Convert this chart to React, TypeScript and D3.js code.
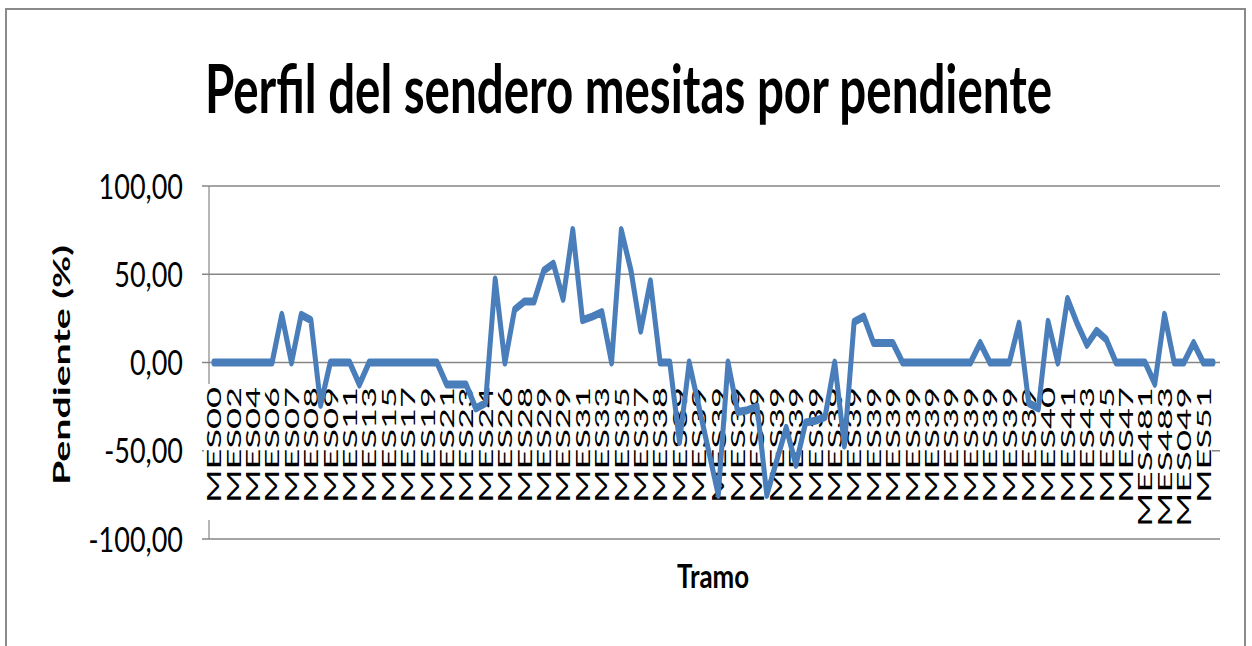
import React from "react";
import * as d3 from "d3";

const values: number[] = [
  0, 0, 0, 0, 0, 0, 0, 27, 0, 27, 24, -24, 0, 0, 0, -12.5, 0, 0, 0, 0,
  0, 0, 0, 0, -12.5, -12.5, -12.5, -26, -23, 47, 0, 30, 34.5, 34.5, 52, 56, 36, 75, 24, 26,
  28.5, 0, 75, 52, 18, 46, 0, 0, -45, 0, -25, -50, -75, 0, -28, -27, -25, -75, -56, -37,
  -58, -34, -33, -31, 0, -47, 23, 26, 11, 11, 11, 0, 0, 0, 0, 0, 0, 0, 0, 11,
  0, 0, 0, 22, -23, -26, 23, 0, 36, 22, 10, 18, 13, 0, 0, 0, 0, -12, 27, 0,
  0, 11, 0, 0,
];

const tickLabels: string[] = [
  "MES00", "MES02", "MES04", "MES06", "MES07", "MES08", "MES09", "MES11", "MES13", "MES15",
  "MES17", "MES19", "MES21", "MES23", "MES24", "MES26", "MES28", "MES29", "MES29", "MES31",
  "MES33", "MES35", "MES37", "MES38",
  "MES39", "MES39", "MES39", "MES39", "MES39", "MES39", "MES39", "MES39", "MES39", "MES39",
  "MES39", "MES39", "MES39", "MES39", "MES39", "MES39", "MES39", "MES39", "MES39",
  "MES40", "MES41", "MES43", "MES45", "MES47", "MES481", "MES483", "MES049", "MES51",
];

const yTicks: number[] = [-100, -50, 0, 50, 100];

const title = "Perfil del sendero mesitas por pendiente";
const yTitle = "Pendiente (%)";
const xTitle = "Tramo";

const W = 1252;
const H = 646;
const S = 1.6; // vertical stretch of the line stroke

const locale = d3.formatLocale({ decimal: ",", thousands: ".", grouping: [3], currency: ["", ""], minus: "-" });
const fmt = locale.format(".2f");

export default function App() {
  const idx = values.map((_, i) => i);
  const x = d3.scalePoint<number>().domain(idx).range([213.9, 1213]);
  const y = d3.scaleLinear().domain([-100, 100]).range([539, 186]);
  const yU = d3.scaleLinear().domain([-100, 100]).range([539 / S, 186 / S]);
  const line = d3
    .line<number>()
    .x((_, i) => x(i) as number)
    .y((d) => yU(d));

  const font = "Lato, 'Liberation Sans', Arial, sans-serif";
  const axisLeft = 209;
  const plotRight = 1220;

  return (
    <svg width={W} height={H} style={{ position: "absolute", left: 0, top: 0, background: "#fff" }}>
      <rect x={0} y={0} width={W} height={H} fill="#fff" />
      <rect x={6} y={9} width={1239} height={700} fill="#fff" stroke="#8a8a8a" strokeWidth={2} />

      {/* title */}
      <text
        transform={`translate(628.5,113) scale(1,1.65)`}
        textAnchor="middle"
        fontFamily={font}
        fontWeight="bold"
        fontSize={40}
        textLength={847}
        lengthAdjust="spacingAndGlyphs"
        fill="#000"
      >
        {title}
      </text>

      {/* gridlines + ticks */}
      {yTicks.map((t) => (
        <line key={t} x1={202} x2={plotRight} y1={y(t)} y2={y(t)} stroke="#868686" strokeWidth={1.6} />
      ))}
      <line x1={axisLeft} x2={axisLeft} y1={y(100)} y2={y(-100)} stroke="#868686" strokeWidth={1.2} />

      {/* y tick labels */}
      {yTicks.map((t) => (
        <text
          key={"l" + t}
          transform={`translate(183,${y(t)}) scale(1,1.3)`}
          textAnchor="end"
          dy="0.36em"
          fontFamily={font}
          fontSize={27}
          fill="#000"
        >
          {fmt(t)}
        </text>
      ))}

      {/* white band behind category labels */}
      <rect x={204} y={384} width={1008} height={136} fill="#fff" />

      {/* category labels */}
      {tickLabels.map((lab, k) => {
        const cx = x(k * 2) as number;
        return (
          <text
            key={"c" + k}
            transform={`translate(${cx},387) rotate(-90)`}
            textAnchor="end"
            dy="0.36em"
            fontFamily={font}
            fontSize={20}
            textLength={lab.length * 24 - 4}
            lengthAdjust="spacingAndGlyphs"
            fill="#000"
          >
            {lab}
          </text>
        );
      })}

      {/* data line */}
      <g transform={`scale(1,${S})`}>
        <path
          d={line(values) || ""}
          fill="none"
          stroke="#4A7EBB"
          strokeWidth={5}
          strokeLinejoin="round"
          strokeLinecap="round"
        />
      </g>

      {/* axis titles */}
      <text
        transform={`translate(62,365) rotate(-90)`}
        textAnchor="middle"
        dy="0.36em"
        fontFamily={font}
        fontWeight="bold"
        fontSize={23}
        textLength={240}
        lengthAdjust="spacingAndGlyphs"
        fill="#000"
      >
        {yTitle}
      </text>
      <text
        transform={`translate(713,588) scale(1,1.45)`}
        textAnchor="middle"
        fontFamily={font}
        fontWeight="bold"
        fontSize={22}
        textLength={72}
        lengthAdjust="spacingAndGlyphs"
        fill="#000"
      >
        {xTitle}
      </text>
    </svg>
  );
}
